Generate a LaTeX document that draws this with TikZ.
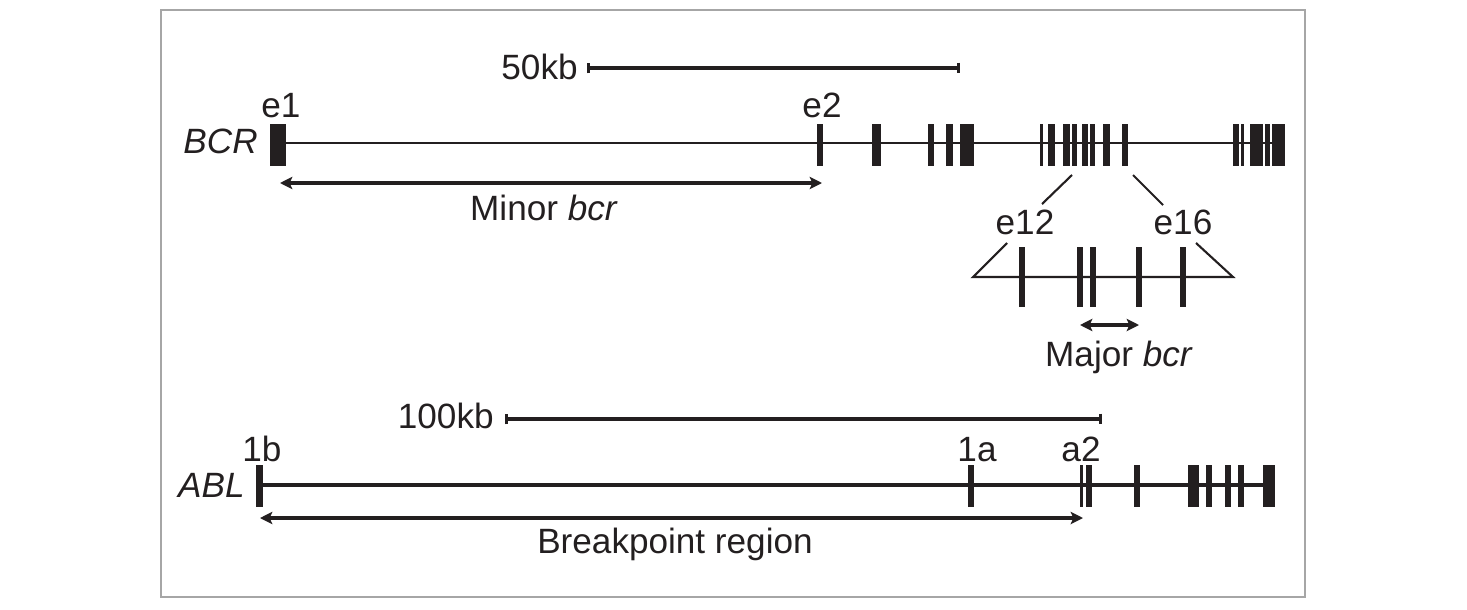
\documentclass[tikz,border=0pt]{standalone}
\usepackage{fontspec}
\setmainfont{Liberation Sans}
\usetikzlibrary{arrows.meta,positioning,calc}
\definecolor{ink}{RGB}{35,31,32}

\begin{document}
\begin{tikzpicture}[x=0.02cm,y=-0.02cm,
    every node/.style={font=\fontsize{20}{24}\selectfont, text=ink, inner sep=0pt},
    gene/.style={draw=ink, line width=1.4pt},
    zoomline/.style={draw=ink, line width=1.2pt},
    scalebar/.style={draw=ink, line width=1.8pt, {Bar[width=6pt]}-{Bar[width=6pt]}},
    span/.style={draw=ink, line width=1.8pt, {Stealth[length=7pt,width=7pt,inset=1.5pt]}-{Stealth[length=7pt,width=7pt,inset=1.5pt]}}]
\useasboundingbox (0,0) rectangle (1467,609);
\draw[black!35, line width=0.9pt] (161,10) rectangle (1305,597);

% BCR
\node[anchor=base east] (kb50) at (578,79) {50kb};
\coordinate (s50a) at (587,68);
\coordinate (s50b) at (960,68);
\draw[scalebar] (s50a) -- (s50b);
\node[anchor=base east] (bcr) at (258,153) {\itshape BCR};
\coordinate (bcrL) at (278,143);
\coordinate (bcrR) at (1285,143);
\draw[gene] (bcrL) -- (bcrR);
\foreach \a/\b in {270/286, 817/823, 872/881, 928/934, 946/953, 960/974,
    1040/1043, 1048/1055, 1063/1070, 1072/1077, 1082/1088, 1090/1095,
    1103/1110, 1122/1128, 1233/1239, 1241/1244, 1250/1263, 1265/1270, 1272/1285}
  \fill[ink] (\a,124) rectangle (\b,166);
\node[anchor=base] (e1) at (281,117) {e1};
\node[anchor=base] (e2) at (822,117) {e2};
\coordinate (minL) at (280,183);
\coordinate (minR) at (822,183);
\draw[span] (minL) -- (minR);
\node[anchor=base] (minor) at (544,220) {Minor \textit{bcr}};

% zoom on e12--e16
\draw[zoomline] (1072,175) -- (1042,204);
\draw[zoomline] (1133,175) -- (1163,205);
\node[anchor=base] (e12) at (1025,234) {e12};
\node[anchor=base] (e16) at (1183,234) {e16};
\draw[zoomline] (1007,243) -- (973,277) -- (1233,277) -- (1196,243);
\foreach \x in {1022, 1080, 1093, 1139, 1183}
  \fill[ink] (\x-3,247) rectangle (\x+3,307);
\coordinate (majL) at (1080,325);
\coordinate (majR) at (1139,325);
\draw[span] (majL) -- (majR);
\node[anchor=base] (major) at (1119,366) {Major \textit{bcr}};

% ABL
\node[anchor=base east] (kb100) at (494,428) {100kb};
\coordinate (s100a) at (505,419);
\coordinate (s100b) at (1102,419);
\draw[scalebar] (s100a) -- (s100b);
\node[anchor=base east] (abl) at (245,497) {\itshape ABL};
\coordinate (ablL) at (260,485);
\coordinate (ablR) at (1275,485);
\draw[gene, line width=1.8pt] (ablL) -- (ablR);
\foreach \a/\b in {256/263, 968/974, 1080/1083, 1086/1092, 1134/1140,
    1188/1199, 1206/1212, 1225/1231, 1238/1244, 1263/1275}
  \fill[ink] (\a,465) rectangle (\b,507);
\node[anchor=base] (x1b) at (262,461) {1b};
\node[anchor=base] (x1a) at (977,461) {1a};
\node[anchor=base] (a2) at (1081,461) {a2};
\coordinate (brkL) at (260,518);
\coordinate (brkR) at (1083,518);
\draw[span] (brkL) -- (brkR);
\node[anchor=base] (brk) at (675,553) {Breakpoint region};
\end{tikzpicture}
\end{document}
